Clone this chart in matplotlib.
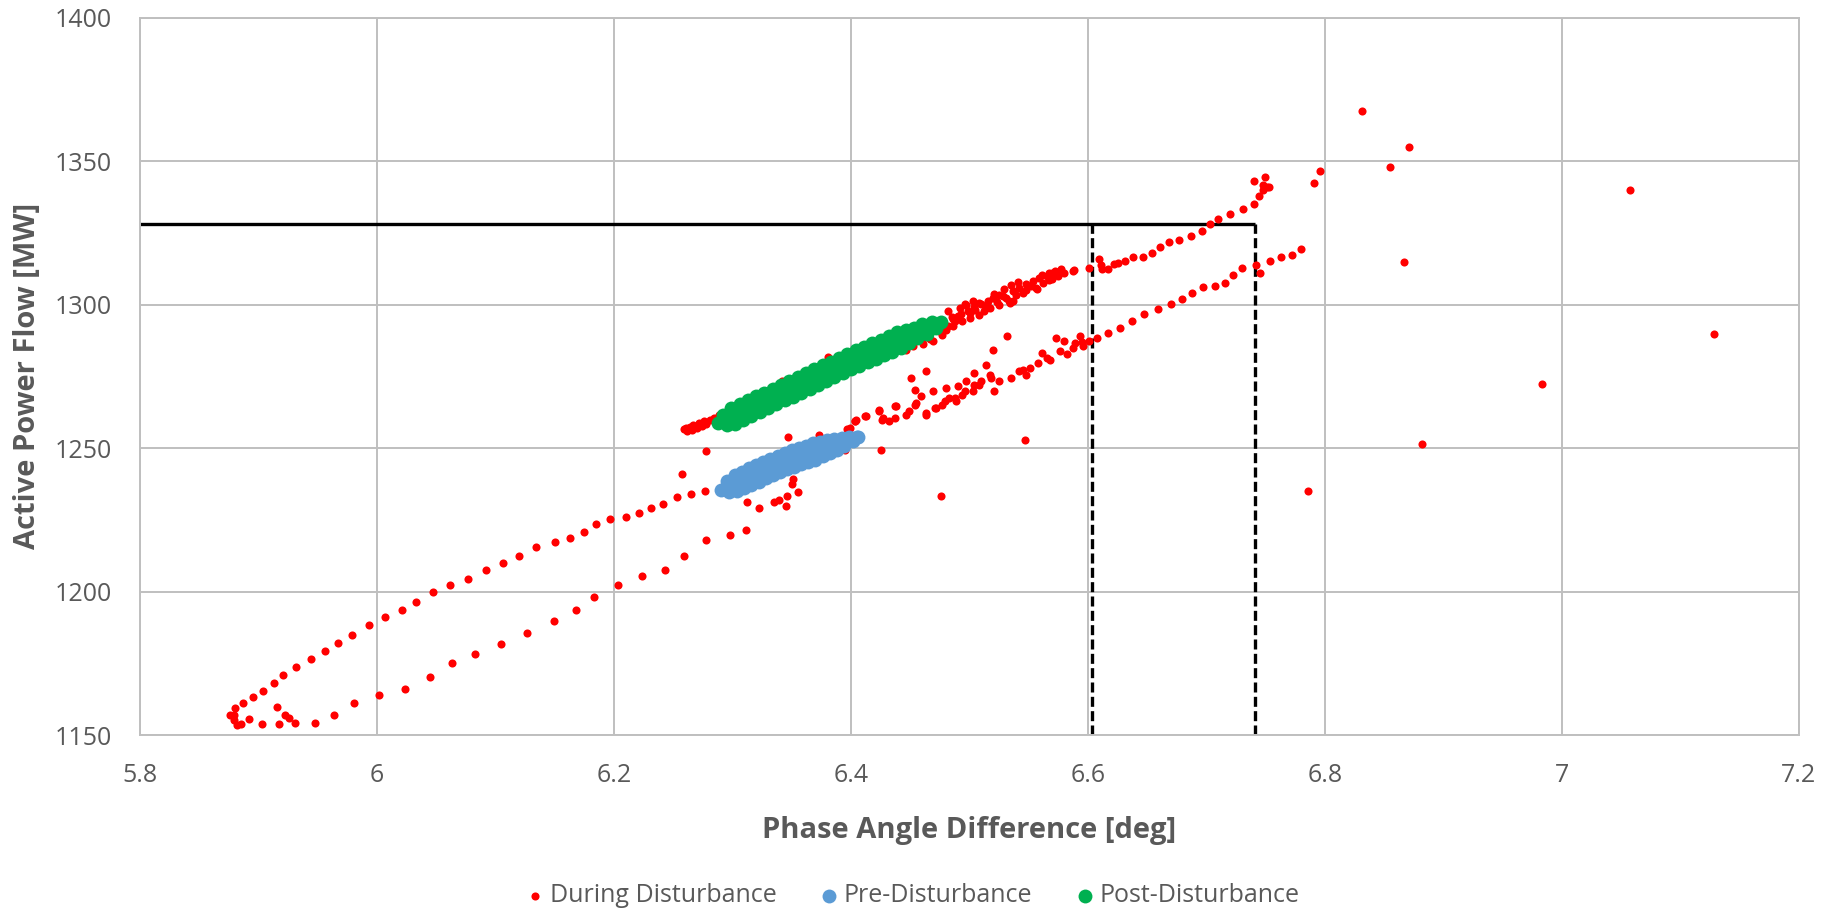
import matplotlib
matplotlib.use("Agg")
import matplotlib.pyplot as plt
import numpy as np

# ---------------- data ----------------
# During Disturbance: bottom loop, upper branch
loop_upper_x = [5.879, 5.880, 5.887, 5.895, 5.904, 5.913, 5.921, 5.932, 5.944, 5.956,
                5.967, 5.979, 5.993, 6.007, 6.021, 6.033, 6.047, 6.062, 6.077, 6.092,
                6.106, 6.120, 6.134, 6.150, 6.163, 6.175, 6.185, 6.197, 6.210, 6.221,
                6.231, 6.241, 6.253, 6.265, 6.277]
loop_upper_y = [1156.9, 1159.3, 1161.3, 1163.1, 1165.5, 1168.1, 1171.0, 1173.6, 1176.6, 1179.2,
                1182.1, 1185.0, 1188.4, 1191.0, 1193.5, 1196.4, 1199.8, 1202.4, 1204.5, 1207.4,
                1210.0, 1212.5, 1215.5, 1217.1, 1218.8, 1220.9, 1223.5, 1225.1, 1226.1, 1227.2,
                1229.0, 1230.6, 1232.8, 1234.1, 1234.9]
# bottom loop, lower branch
loop_lower_x = [5.876, 5.879, 5.882, 5.885, 5.892, 5.903, 5.916, 5.917, 5.922, 5.926,
                5.931, 5.948, 5.964, 5.981, 6.002, 6.024, 6.045, 6.063, 6.083, 6.105,
                6.127, 6.149, 6.168, 6.183, 6.203, 6.224, 6.243, 6.259, 6.278, 6.298, 6.311]
loop_lower_y = [1156.9, 1155.3, 1153.4, 1153.7, 1155.5, 1153.7, 1159.8, 1153.7, 1156.9, 1156.0,
                1154.2, 1154.2, 1157.1, 1161.3, 1163.9, 1166.1, 1170.3, 1175.0, 1178.2, 1181.7,
                1185.5, 1189.8, 1193.5, 1198.1, 1202.4, 1205.3, 1207.4, 1212.5, 1218.0, 1219.7, 1221.4]
# scattered points around the pre-disturbance cluster
near_pre_x = [6.257, 6.278, 6.347, 6.312, 6.322, 6.335, 6.339, 6.345, 6.346, 6.350,
              6.351, 6.355, 6.373, 6.395, 6.397, 6.403]
near_pre_y = [1240.9, 1248.8, 1254.0, 1231.1, 1229.0, 1231.1, 1231.9, 1229.9, 1233.3, 1237.5,
              1239.1, 1234.6, 1254.7, 1249.4, 1256.7, 1259.3]
# red points leading into the post-disturbance cluster
post_lead_x = [6.259, 6.261, 6.262, 6.264, 6.266, 6.267, 6.270, 6.272, 6.274, 6.276,
               6.278, 6.281, 6.284, 6.289, 6.298, 6.303, 6.312, 6.320, 6.342, 6.381]
post_lead_y = [1256.5, 1257.0, 1256.0, 1257.5, 1256.3, 1258.1, 1257.0, 1258.8, 1257.8, 1259.3,
               1258.3, 1259.6, 1260.4, 1261.6, 1264.0, 1265.1, 1267.0, 1268.3, 1273.3, 1281.8]
# dense upper band beyond the post-disturbance cluster
upper_band_x = [6.443, 6.451, 6.460, 6.467, 6.476, 6.482, 6.488, 6.493, 6.499, 6.504,
                6.510, 6.516, 6.521, 6.482, 6.486, 6.492, 6.497, 6.500, 6.508, 6.514,
                6.520, 6.525, 6.531, 6.537, 6.542, 6.548, 6.554, 6.559, 6.565, 6.570,
                6.576, 6.587, 6.534, 6.539, 6.556, 6.477, 6.480, 6.486, 6.469, 6.461,
                6.452, 6.446, 6.494, 6.500, 6.508, 6.517, 6.525, 6.537, 6.529, 6.535,
                6.541, 6.561, 6.567, 6.572, 6.577, 6.512, 6.533, 6.548, 6.557, 6.567,
                6.503, 6.496, 6.505, 6.515, 6.523, 6.528, 6.545, 6.552, 6.562, 6.570,
                6.575, 6.580, 6.490, 6.485]
upper_band_y = [1284.4, 1286.2, 1287.4, 1287.9, 1290.3, 1292.6, 1294.4, 1296.7, 1297.9, 1299.1,
                1300.2, 1301.4, 1303.7, 1297.7, 1294.8, 1298.8, 1300.0, 1297.1, 1300.6, 1298.8,
                1302.3, 1303.5, 1302.3, 1304.7, 1305.8, 1307.0, 1308.1, 1309.3, 1309.9, 1311.0,
                1311.6, 1311.6, 1300.6, 1303.5, 1305.8, 1289.5, 1291.3, 1292.4, 1287.2, 1286.2,
                1285.5, 1284.3, 1294.2, 1295.3, 1296.5, 1298.8, 1300.0, 1301.2, 1305.5, 1306.7,
                1307.8, 1310.2, 1311.0, 1311.7, 1312.3, 1297.9, 1301.4, 1304.9, 1305.5, 1308.4,
                1301.4, 1300.2, 1298.0, 1300.0, 1301.0, 1303.0, 1304.0, 1306.5, 1307.5, 1309.0,
                1310.0, 1311.0, 1296.0, 1295.5]
# sparse tail of the upper band
upper_tail_x = [6.588, 6.601, 6.609, 6.611, 6.612, 6.617, 6.622, 6.625, 6.631, 6.638,
                6.646, 6.654, 6.661, 6.668, 6.677, 6.687, 6.696, 6.703, 6.710, 6.720,
                6.731, 6.740, 6.744, 6.748, 6.751, 6.753, 6.740, 6.749, 6.748]
upper_tail_y = [1311.9, 1312.9, 1316.0, 1313.7, 1312.5, 1312.5, 1314.3, 1314.5, 1315.1, 1316.6,
                1316.6, 1318.0, 1320.1, 1321.9, 1322.5, 1323.9, 1325.5, 1328.0, 1329.9, 1331.5,
                1333.3, 1334.9, 1337.8, 1340.0, 1341.0, 1340.9, 1343.0, 1344.4, 1341.8]
# lower return line
lower_line_x = [6.394, 6.403, 6.412, 6.424, 6.426, 6.437, 6.449, 6.454, 6.463, 6.471,
                6.479, 6.488, 6.496, 6.504, 6.510, 6.518,
                6.404, 6.413, 6.399, 6.424, 6.427, 6.432, 6.438, 6.437, 6.446, 6.451,
                6.454, 6.455, 6.459, 6.463, 6.463, 6.469, 6.472, 6.477, 6.480, 6.483,
                6.489, 6.490, 6.494, 6.497, 6.503, 6.504, 6.508, 6.514, 6.517, 6.520,
                6.521, 6.525, 6.532, 6.535, 6.542, 6.545, 6.548, 6.551, 6.558, 6.561,
                6.565, 6.568, 6.573, 6.576, 6.580, 6.582, 6.587, 6.589, 6.593, 6.596,
                6.601, 6.608, 6.617,
                6.595, 6.627, 6.637, 6.647, 6.659, 6.670, 6.679, 6.688, 6.697, 6.707,
                6.716, 6.722, 6.730, 6.742, 6.745, 6.754, 6.763, 6.772, 6.780]
lower_line_y = [1249.9, 1259.5, 1261.0, 1262.8, 1259.8, 1264.5, 1262.8, 1265.1, 1261.6, 1263.9,
                1266.3, 1267.4, 1269.8, 1272.1, 1273.3, 1274.5,
                1259.9, 1261.0, 1257.0, 1263.4, 1260.5, 1259.3, 1264.5, 1260.5, 1261.6, 1274.4,
                1270.3, 1265.7, 1268.0, 1276.7, 1262.2, 1269.8, 1264.0, 1265.1, 1270.9, 1267.4,
                1266.3, 1271.5, 1268.6, 1273.3, 1269.8, 1276.2, 1272.1, 1279.1, 1275.6, 1284.3,
                1269.8, 1273.3, 1289.0, 1274.4, 1276.7, 1277.3, 1275.6, 1277.9, 1279.7, 1283.1,
                1281.4, 1280.8, 1288.4, 1283.7, 1287.2, 1282.6, 1284.9, 1286.6, 1289.0, 1285.5,
                1287.2, 1288.4, 1290.1,
                1286.8, 1292.0, 1294.3, 1296.7, 1298.5, 1300.1, 1301.9, 1304.2, 1306.0, 1306.4,
                1307.4, 1310.3, 1312.8, 1313.9, 1311.1, 1315.3, 1316.6, 1317.4, 1319.2]
# isolated outliers
outlier_x = [6.425, 6.476, 6.547, 6.791, 6.796, 6.831, 6.855, 6.871, 6.867, 6.983,
             6.882, 6.786, 7.057, 7.128]
outlier_y = [1249.2, 1233.4, 1252.7, 1342.2, 1346.4, 1367.6, 1348.0, 1354.9, 1315.0, 1272.2,
             1251.4, 1235.2, 1339.9, 1289.8]

# Pre-Disturbance
pre_x = [6.290, 6.295, 6.297, 6.302, 6.304, 6.308, 6.310, 6.314, 6.316, 6.320,
         6.322, 6.326, 6.328, 6.332, 6.334, 6.338, 6.340, 6.344, 6.346, 6.350,
         6.352, 6.356, 6.358, 6.362, 6.364, 6.368, 6.370, 6.374, 6.376, 6.380,
         6.382, 6.386, 6.388, 6.392, 6.394, 6.398, 6.402, 6.406,
         6.300, 6.320, 6.340, 6.360, 6.380, 6.400,
         6.295, 6.305, 6.310, 6.315, 6.325, 6.330, 6.335, 6.345, 6.350, 6.355,
         6.365, 6.370, 6.375, 6.385, 6.390, 6.395, 6.405]
pre_y = [1235.5, 1238.4, 1234.8, 1240.7, 1235.0, 1241.8, 1236.1, 1242.9, 1237.2, 1244.0,
         1238.3, 1245.1, 1239.4, 1246.2, 1240.5, 1247.2, 1241.6, 1248.3, 1242.6, 1249.2,
         1243.5, 1250.0, 1244.3, 1250.8, 1245.1, 1251.7, 1245.9, 1252.0, 1247.3, 1252.8,
         1248.1, 1253.1, 1249.4, 1253.4, 1250.7, 1254.0, 1252.3, 1253.8,
         1237.3, 1241.0, 1244.6, 1247.6, 1250.3, 1253.0,
         1236.4, 1238.2, 1239.1, 1240.1, 1241.9, 1242.8, 1243.7, 1245.5, 1246.2, 1246.9,
         1248.2, 1248.9, 1249.6, 1250.9, 1251.6, 1252.3, 1253.7]

# Post-Disturbance
post_x = [6.288, 6.292, 6.295, 6.299, 6.302, 6.306, 6.309, 6.313, 6.316, 6.320,
          6.323, 6.327, 6.330, 6.334, 6.337, 6.341, 6.344, 6.348, 6.351, 6.355,
          6.358, 6.362, 6.365, 6.369, 6.372, 6.376, 6.379, 6.383, 6.386, 6.390,
          6.393, 6.397, 6.400, 6.404, 6.407, 6.411, 6.414, 6.418, 6.421, 6.425,
          6.428, 6.432, 6.435, 6.439, 6.442, 6.446, 6.449, 6.453, 6.456, 6.460,
          6.464, 6.468, 6.472, 6.476,
          6.300, 6.320, 6.340, 6.360, 6.380, 6.400, 6.420, 6.440, 6.460,
          6.295, 6.305, 6.310, 6.315, 6.325, 6.330, 6.335, 6.345, 6.350, 6.355,
          6.365, 6.370, 6.375, 6.385, 6.390, 6.395, 6.405, 6.410, 6.415, 6.425,
          6.430, 6.435, 6.445, 6.450, 6.455, 6.465, 6.470]
post_y = [1258.8, 1261.6, 1258.2, 1263.9, 1258.5, 1265.3, 1259.9, 1266.6, 1261.2, 1268.0,
          1262.5, 1269.3, 1263.9, 1270.7, 1265.2, 1272.0, 1266.6, 1273.4, 1267.9, 1274.7,
          1269.3, 1276.1, 1270.6, 1277.4, 1272.0, 1278.8, 1273.3, 1280.1, 1274.7, 1281.5,
          1276.0, 1282.8, 1277.4, 1284.1, 1278.6, 1285.3, 1279.9, 1286.6, 1281.1, 1287.8,
          1282.4, 1289.1, 1283.6, 1290.3, 1284.9, 1291.1, 1286.6, 1292.0, 1288.2, 1293.1,
          1289.8, 1294.0, 1292.0, 1293.8,
          1261.2, 1265.0, 1268.8, 1272.7, 1276.5, 1280.4, 1283.9, 1287.4, 1291.1,
          1260.2, 1262.1, 1263.0, 1264.0, 1265.9, 1266.9, 1267.9, 1269.8, 1270.8, 1271.7,
          1273.7, 1274.6, 1275.6, 1277.5, 1278.5, 1279.5, 1281.3, 1282.2, 1283.1, 1284.8,
          1285.7, 1286.6, 1288.4, 1289.3, 1290.1, 1291.9, 1292.8]

# reference lines
power_limit = 1328.0
angle_low = 6.603
angle_high = 6.741

x_ticks = [5.8, 6.0, 6.2, 6.4, 6.6, 6.8, 7.0, 7.2]
x_tick_labels = ["5.8", "6", "6.2", "6.4", "6.6", "6.8", "7", "7.2"]
y_ticks = [1150, 1200, 1250, 1300, 1350, 1400]

series_labels = ["During Disturbance", "Pre-Disturbance", "Post-Disturbance"]

during_x = (loop_upper_x + loop_lower_x + near_pre_x + post_lead_x + upper_band_x
            + upper_tail_x + lower_line_x + outlier_x)
during_y = (loop_upper_y + loop_lower_y + near_pre_y + post_lead_y + upper_band_y
            + upper_tail_y + lower_line_y + outlier_y)

# ---------------- figure ----------------
TXT = "#595959"
GRID = "#BFBFBF"
FONT = "Open Sans"

fig = plt.figure(figsize=(18.35, 9.10), dpi=100)
ax = fig.add_axes([140 / 1835, 1 - 735 / 910, 1659 / 1835, 717.4 / 910])

ax.set_xlim(5.8, 7.2)
ax.set_ylim(1150, 1400)
ax.set_axisbelow(True)
ax.grid(True, color=GRID, lw=1.4)
for s in ax.spines.values():
    s.set_color(GRID)
    s.set_linewidth(1.4)

ax.set_xticks(x_ticks)
ax.set_xticklabels(x_tick_labels)
ax.set_yticks(y_ticks)
ax.tick_params(length=0, pad=20.5, labelsize=18, labelcolor=TXT)
for lab in ax.get_xticklabels() + ax.get_yticklabels():
    lab.set_family(FONT)

# reference lines
ax.plot([5.8, angle_high], [power_limit, power_limit], color="black", lw=2.4, zorder=2,
        solid_capstyle="butt")
ax.plot([angle_low, angle_low], [1150, power_limit], color="black", lw=2.4,
        ls=(0, (3, 1.3)), zorder=2)
ax.plot([angle_high, angle_high], [1150, power_limit], color="black", lw=2.4,
        ls=(0, (3, 1.3)), zorder=2)

h1 = ax.scatter(during_x, during_y, s=34, color="#FF0000", linewidths=0, zorder=3)
h2 = ax.scatter(pre_x, pre_y, s=100, color="#5B9BD5", linewidths=0, zorder=4)
h3 = ax.scatter(post_x, post_y, s=100, color="#00B050", linewidths=0, zorder=5)

ax.set_xlabel("Phase Angle Difference [deg]", fontsize=21, fontweight="bold",
              color=TXT, family=FONT, labelpad=20)
ax.set_ylabel("Active Power Flow [MW]", fontsize=21, fontweight="bold",
              color=TXT, family=FONT, labelpad=9)

fig.legend([h1, h2, h3], series_labels, loc="center", bbox_to_anchor=(0.4978, 0.0154),
           ncol=3, frameon=False, prop={"family": FONT, "size": 18},
           handlelength=0.6, handletextpad=0.3, columnspacing=1.8,
           borderpad=0.0, borderaxespad=0.0, scatterpoints=1,
           labelcolor=TXT)

fig.savefig("out.png", dpi=100)
